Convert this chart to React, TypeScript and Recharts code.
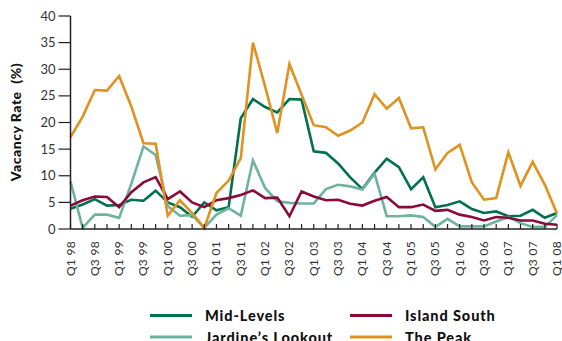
import React from "react";
import { LineChart, Line, XAxis, YAxis } from "recharts";

const quarters: string[] = [
  "Q1 98","Q2 98","Q3 98","Q4 98","Q1 99","Q2 99","Q3 99","Q4 99",
  "Q1 00","Q2 00","Q3 00","Q4 00","Q1 01","Q2 01","Q3 01","Q4 01",
  "Q1 02","Q2 02","Q3 02","Q4 02","Q1 03","Q2 03","Q3 03","Q4 03",
  "Q1 04","Q2 04","Q3 04","Q4 04","Q1 05","Q2 05","Q3 05","Q4 05",
  "Q1 06","Q2 06","Q3 06","Q4 06","Q1 07","Q2 07","Q3 07","Q4 07","Q1 08",
];

const midLevels: number[] = [
  3.8, 4.6, 5.6, 4.4, 4.5, 5.5, 5.3, 7.2, 5.0, 4.1,
  2.3, 5.0, 3.5, 4.1, 20.8, 24.4, 22.9, 21.9, 24.4, 24.3,
  14.6, 14.3, 12.3, 9.7, 7.5, 10.6, 13.2, 11.6, 7.5, 9.7,
  4.1, 4.5, 5.2, 3.75, 3.0, 3.3, 2.4, 2.5, 3.6, 2.1, 3.0,
];

const jardinesLookout: number[] = [
  8.9, 0.2, 2.7, 2.7, 2.1, 8.5, 15.5, 13.9, 4.25, 2.5,
  2.6, 0.2, 2.7, 3.9, 2.5, 12.9, 7.7, 5.2, 4.9, 4.8,
  4.8, 7.5, 8.3, 8.0, 7.4, 10.4, 2.4, 2.4, 2.55, 2.25,
  0.4, 1.9, 0.5, 0.5, 0.5, 1.4, 2.25, 1.1, 0.4, 0.4, 2.6,
];

const islandSouth: number[] = [
  4.4, 5.4, 6.1, 6.0, 4.1, 6.9, 8.75, 9.75, 5.6, 7.05,
  5.0, 4.1, 5.4, 5.8, 6.4, 7.25, 5.8, 5.9, 2.4, 7.05,
  6.1, 5.4, 5.5, 4.75, 4.4, 5.3, 6.0, 4.1, 4.1, 4.6,
  3.4, 3.6, 2.7, 2.25, 1.6, 2.25, 2.1, 1.6, 1.6, 1.0, 0.8,
];

const thePeak: number[] = [
  17.25, 21.1, 26.1, 26.0, 28.75, 23.0, 16.1, 16.0, 2.5, 5.4,
  3.0, 0.2, 6.75, 9.1, 13.3, 35.0, 26.8, 18.0, 31.0, 25.2,
  19.5, 19.1, 17.5, 18.5, 20.0, 25.3, 22.6, 24.6, 18.9, 19.1,
  11.2, 14.3, 15.8, 8.75, 5.5, 5.8, 14.4, 8.1, 12.6, 8.3, 2.9,
];

const yTicks: number[] = [0, 5, 10, 15, 20, 25, 30, 35, 40];

const seriesNames = ["Mid-Levels", "Jardine\u2019s Lookout", "Island South", "The Peak"];
const seriesKeys = ["mid", "jardine", "island", "peak"];
const seriesColors = ["#00704f", "#6db39e", "#8a0a3a", "#e0911e"];

const data = quarters.map((q, i) => ({
  q,
  mid: midLevels[i],
  jardine: jardinesLookout[i],
  island: islandSouth[i],
  peak: thePeak[i],
}));

const FONT = "Lato, 'Open Sans', sans-serif";

const XTick = (props: any) => {
  const { x, y, payload } = props;
  const idx = payload.index;
  return (
    <g transform={`translate(${x},${y})`}>
      <line x1={0} y1={0} x2={0} y2={-5} stroke="#222" strokeWidth={1.2} />
      {idx % 2 === 0 ? (
        <text
          x={0}
          y={0}
          transform="translate(-0.5,12) rotate(-90)"
          textAnchor="end"
          dominantBaseline="central"
          fontSize={12}
          letterSpacing={0.3}
          fontFamily={FONT}
          fill="#333"
        >
          {payload.value}
        </text>
      ) : null}
    </g>
  );
};

export default function App() {
  return (
    <div style={{ position: "absolute", left: 0, top: 0, width: 562, height: 341, background: "#fff" }}>
      <LineChart
        width={562}
        height={341}
        data={data}
        margin={{ top: 16, right: 5, left: 0, bottom: 0 }}
      >
        <XAxis
          dataKey="q"
          interval={0}
          tickSize={0}
          tickMargin={0}
          tickLine={false}
          tick={<XTick />}
          height={112}
          axisLine={{ stroke: "#222", strokeWidth: 1.5 }}
        />
        <YAxis
          domain={[0, 40]}
          ticks={yTicks}
          width={70.5}
          tickSize={12}
          tickMargin={3}
          tickLine={{ stroke: "#222", strokeWidth: 1.2 }}
          axisLine={{ stroke: "#222", strokeWidth: 1.5 }}
          tick={{ fontSize: 13, fontFamily: FONT, fill: "#333" }}
          label={{
            content: () => (
              <text
                x={15}
                y={122}
                transform="rotate(-90,15,122)"
                textAnchor="middle"
                dominantBaseline="central"
                fontSize={14}
                letterSpacing={0.5}
                fontWeight={900}
                fontFamily={FONT}
                fill="#111"
              >
                Vacancy Rate {"\u00a0"}(%)
              </text>
            ),
          }}
        />
        {seriesKeys.map((k, i) => (
          <Line
            key={k}
            type="linear"
            dataKey={k}
            name={seriesNames[i]}
            stroke={seriesColors[i]}
            strokeWidth={2.6}
            dot={false}
            activeDot={false}
            isAnimationActive={false}
          />
        ))}
      </LineChart>
      <svg
        width={562}
        height={341}
        style={{ position: "absolute", left: 0, top: 0, pointerEvents: "none" }}
      >
        {seriesNames.map((name, i) => {
          const col = i < 2 ? 0 : 1;
          const row = i % 2;
          const lx = col === 0 ? 150 : 350;
          const ly = row === 0 ? 315.5 : 337;
          return (
            <g key={name}>
              <line x1={lx} y1={ly} x2={lx + 42} y2={ly} stroke={seriesColors[i]} strokeWidth={3} />
              <text
                x={lx + 55}
                y={ly}
                dominantBaseline="central"
                fontSize={14.5}
                letterSpacing={0.9}
                fontWeight={900}
                fontFamily={FONT}
                fill="#111"
              >
                {name}
              </text>
            </g>
          );
        })}
      </svg>
    </div>
  );
}
